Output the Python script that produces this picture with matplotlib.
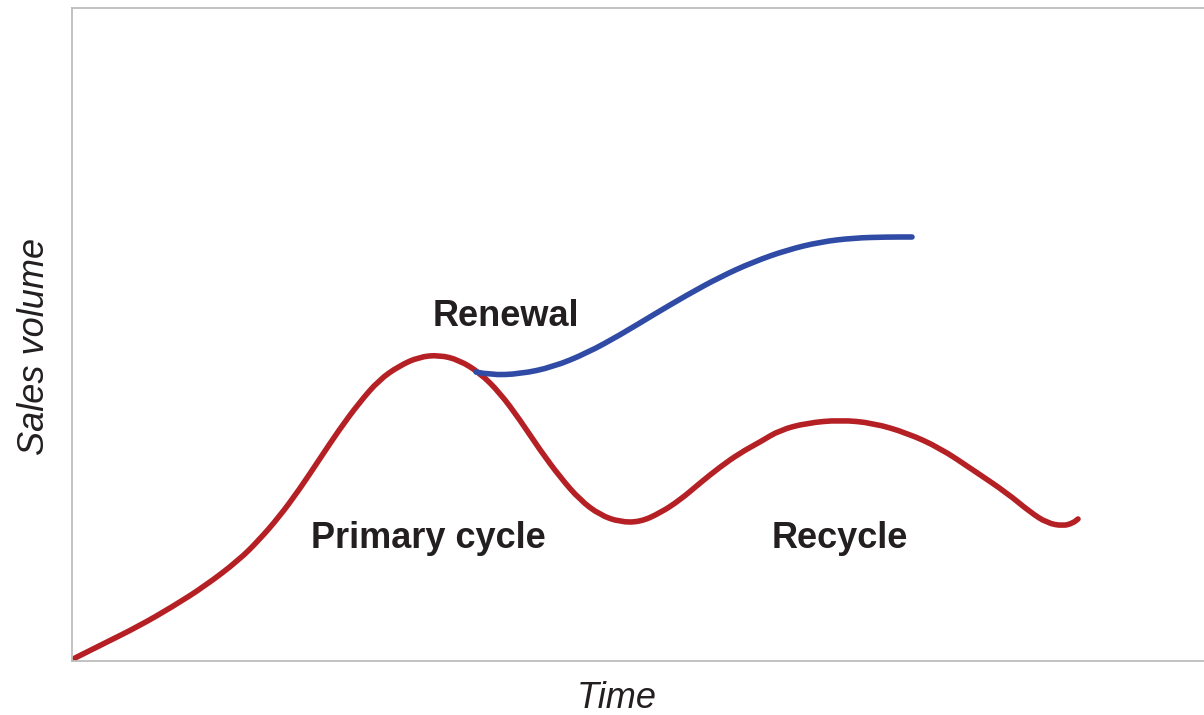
import matplotlib
matplotlib.use("Agg")
import matplotlib.pyplot as plt
from matplotlib.path import Path
from matplotlib.patches import PathPatch

plt.rcParams['font.family'] = ['Liberation Sans', 'DejaVu Sans']

# primary cycle followed by recycle (red)
cycle_x = [3, 33, 67, 100, 133, 167, 187, 207, 227, 247, 267, 287, 307, 327, 347, 367,
           387, 408, 428, 448, 468, 488, 508, 528, 548, 568, 588, 608, 628, 648, 668,
           688, 708, 735, 768, 801, 835, 868, 901, 935, 958, 975, 991, 1001, 1006]
cycle_y = [3, 18, 35, 54, 75, 101, 121, 144, 171, 201, 231, 258, 281, 295, 304, 306,
           301, 288, 268, 241, 211, 184, 161, 146, 139, 139, 148, 161, 178, 194, 208,
           219, 231, 238, 241, 238, 228, 213, 191, 168, 149, 138, 135, 138, 142]

# renewal branch (blue)
renew_x = [404, 418, 448, 481, 515, 548, 581, 615, 648, 681, 715, 748, 781, 815, 840]
renew_y = [289, 286, 287, 294, 308, 326, 346, 366, 384, 399, 411, 419, 423, 424, 424]

labels = ["Renewal", "Primary cycle", "Recycle"]
label_x = [434, 356, 768]
label_y = [335, 113, 113]


# smooth curve through the read points (quadratic b-spline path)
def smooth_path(xs, ys):
    pts = list(zip(xs, ys))
    verts = [pts[0]]
    codes = [Path.MOVETO]
    for i in range(1, len(pts) - 1):
        mid = ((pts[i][0] + pts[i + 1][0]) / 2, (pts[i][1] + pts[i + 1][1]) / 2)
        verts += [pts[i], mid]
        codes += [Path.CURVE3, Path.CURVE3]
    verts.append(pts[-1])
    codes.append(Path.LINETO)
    return Path(verts, codes)


fig = plt.figure(figsize=(12.04, 7.15), dpi=100)
ax = fig.add_axes([72 / 1204, 54 / 715, 1132 / 1204, 653 / 715])
ax.set_xlim(0, 1132)
ax.set_ylim(0, 653)

for xs, ys, c in [(cycle_x, cycle_y, '#b52025'), (renew_x, renew_y, '#2f4ba5')]:
    ax.add_patch(PathPatch(smooth_path(xs, ys), facecolor='none', edgecolor=c, lw=4.0,
                           capstyle='round', joinstyle='round'))

for t, x, y in zip(labels, label_x, label_y):
    ax.text(x, y, t, ha='center', va='baseline', fontsize=26, fontweight='bold', color='#231f20')

ax.set_xticks([])
ax.set_yticks([])
for side in ['left', 'top', 'bottom']:
    ax.spines[side].set_color('#b8b8b8')
    ax.spines[side].set_linewidth(1.2)
ax.spines['right'].set_visible(False)

fig.text(617 / 1204, 1 - 708 / 715, "Time", ha='center', va='baseline', fontsize=26,
         style='italic', color='#231f20')
fig.text(35 / 1204, 1 - 346 / 715, "Sales volume", ha='center', va='center', fontsize=26,
         style='italic', rotation=90, color='#231f20')

fig.savefig("out.png", dpi=100)
